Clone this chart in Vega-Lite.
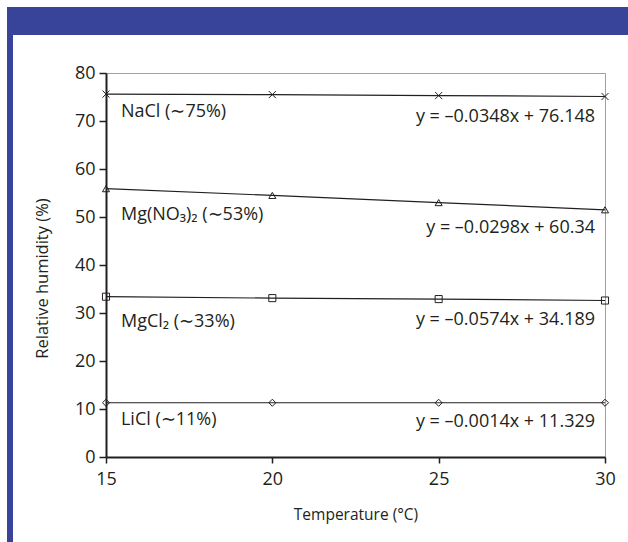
{
  "$schema": "https://vega.github.io/schema/vega-lite/v6.json",
  "background": "white",
  "padding": {"left": 7, "top": 7, "right": 0, "bottom": 0},
  "spacing": 0,
  "align": "each",
  "bounds": "full",
  "config": {
    "font": "Open Sans",
    "view": {"stroke": null}
  },
  "hconcat": [
    {
      "width": 6,
      "height": 535,
      "view": {"fill": "#374499", "stroke": null},
      "data": {"values": []},
      "mark": "point"
    },
    {
      "spacing": 28,
      "align": "each",
      "bounds": "full",
      "vconcat": [
        {
          "width": 615,
          "height": 28,
          "view": {"fill": "#374499", "stroke": null},
          "data": {"values": []},
          "mark": "point"
        },
        {
          "spacing": 19,
          "align": "each",
          "bounds": "full",
          "hconcat": [
            {
              "width": 1,
              "height": 1,
              "view": {"stroke": null},
              "data": {"values": []},
              "mark": "point"
            },
            {
              "width": 499,
              "height": 384,
              "view": {"stroke": "#a0a0a0", "strokeWidth": 1},
              "data": {
                "values": [
                  {"salt": "NaCl", "t": 15, "rh": 75.6},
                  {"salt": "NaCl", "t": 20, "rh": 75.5},
                  {"salt": "NaCl", "t": 25, "rh": 75.3},
                  {"salt": "NaCl", "t": 30, "rh": 75.1},
                  {"salt": "Mg(NO3)2", "t": 15, "rh": 55.9},
                  {"salt": "Mg(NO3)2", "t": 20, "rh": 54.5},
                  {"salt": "Mg(NO3)2", "t": 25, "rh": 53.0},
                  {"salt": "Mg(NO3)2", "t": 30, "rh": 51.5},
                  {"salt": "MgCl2", "t": 15, "rh": 33.4},
                  {"salt": "MgCl2", "t": 20, "rh": 33.1},
                  {"salt": "MgCl2", "t": 25, "rh": 32.9},
                  {"salt": "MgCl2", "t": 30, "rh": 32.6},
                  {"salt": "LiCl", "t": 15, "rh": 11.3},
                  {"salt": "LiCl", "t": 20, "rh": 11.3},
                  {"salt": "LiCl", "t": 25, "rh": 11.3},
                  {"salt": "LiCl", "t": 30, "rh": 11.3}
                ]
              },
              "encoding": {
                "x": {
                  "field": "t",
                  "type": "quantitative",
                  "scale": {"domain": [15, 30], "nice": false, "zero": false},
                  "axis": {
                    "values": [15, 20, 25, 30],
                    "title": "Temperature (°C)",
                    "grid": false,
                    "zindex": 1,
                    "domainColor": "#231f20",
                    "domainWidth": 2,
                    "tickColor": "#231f20",
                    "tickWidth": 1.5,
                    "tickSize": 6,
                    "labelFontSize": 18,
                    "labelColor": "#231f20",
                    "labelPadding": 7,
                    "labelFlush": false,
                    "labelOverlap": false,
                    "labelBound": false,
                    "titleFontSize": 15.5,
                    "titleFontWeight": "normal",
                    "titleColor": "#231f20",
                    "titlePadding": 19
                  }
                },
                "y": {
                  "field": "rh",
                  "type": "quantitative",
                  "scale": {"domain": [0, 80], "nice": false},
                  "axis": {
                    "values": [0, 10, 20, 30, 40, 50, 60, 70, 80],
                    "title": "Relative humidity (%)",
                    "grid": false,
                    "zindex": 1,
                    "domainColor": "#231f20",
                    "domainWidth": 2,
                    "tickColor": "#231f20",
                    "tickWidth": 1.5,
                    "tickSize": 7,
                    "labelFontSize": 18,
                    "labelColor": "#231f20",
                    "labelPadding": 4,
                    "labelFlush": false,
                    "labelOverlap": false,
                    "labelBound": false,
                    "titleFontSize": 16.5,
                    "titleFontWeight": "normal",
                    "titleColor": "#231f20",
                    "titlePadding": 24,
                    "titleY": 205
                  }
                }
              },
              "layer": [
                {
                  "mark": {"type": "line", "color": "#231f20", "strokeWidth": 1.2},
                  "encoding": {"detail": {"field": "salt"}}
                },
                {
                  "mark": {"type": "point", "filled": false, "color": "#231f20", "size": 50, "strokeWidth": 1, "opacity": 1},
                  "encoding": {
                    "shape": {
                      "field": "salt",
                      "type": "nominal",
                      "scale": {
                        "domain": ["NaCl", "Mg(NO3)2", "MgCl2", "LiCl"],
                        "range": ["M-1,-1L1,1M-1,1L1,-1", "triangle-up", "square", "diamond"]
                      },
                      "legend": null
                    }
                  }
                },
                {
                  "data": {
                    "values": [
                      {"t": 15.45, "rh": 71.9, "label": "NaCl (∼75%)"},
                      {"t": 15.45, "rh": 50.4, "label": "Mg(NO₃)₂ (∼53%)"},
                      {"t": 15.45, "rh": 28.1, "label": "MgCl₂ (∼33%)"},
                      {"t": 15.45, "rh": 7.7, "label": "LiCl (∼11%)"}
                    ]
                  },
                  "mark": {"type": "text", "align": "left", "baseline": "middle", "fontSize": 18, "color": "#231f20"},
                  "encoding": {"text": {"field": "label"}}
                },
                {
                  "data": {
                    "values": [
                      {"t": 29.7, "rh": 70.8, "label": "y = –0.0348x + 76.148"},
                      {"t": 29.7, "rh": 47.7, "label": "y = –0.0298x + 60.34"},
                      {"t": 29.7, "rh": 28.5, "label": "y = –0.0574x + 34.189"},
                      {"t": 29.7, "rh": 7.3, "label": "y = –0.0014x + 11.329"}
                    ]
                  },
                  "mark": {"type": "text", "align": "right", "baseline": "middle", "fontSize": 18, "color": "#231f20"},
                  "encoding": {"text": {"field": "label"}}
                }
              ]
            }
          ]
        }
      ]
    }
  ]
}
